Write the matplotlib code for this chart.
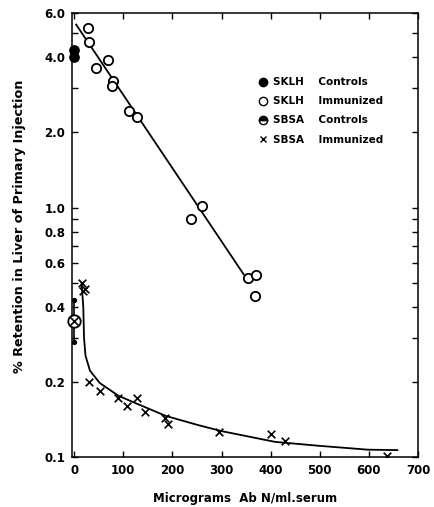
import matplotlib.pyplot as plt
from matplotlib.lines import Line2D

# SKLH, immunized (open circles)
sklh_imm_x = [28, 30, 45, 68, 78, 76, 111, 127, 237, 261, 354, 370, 369]
sklh_imm_y = [5.22, 4.6, 3.62, 3.89, 3.21, 3.06, 2.44, 2.31, 0.90, 1.01, 0.52, 0.535, 0.44]
# fitted line for SKLH
sklh_fit_x = [4, 345]
sklh_fit_y = [5.41, 0.54]
# SKLH controls (filled)
sklh_ctl_x = [0, 0]
sklh_ctl_y = [4.0, 4.27]

# SBSA controls: mean with range
sbsa_ctl_x = [0]
sbsa_ctl_y = [0.35]
sbsa_ctl_lo = [0.289]
sbsa_ctl_hi = [0.425]

# SBSA immunized (x marks)
sbsa_imm_x = [15, 18.5, 21, 30.5, 53.5, 90, 107, 128, 145, 185, 192, 294.5, 400, 429, 636.6]
sbsa_imm_y = [0.496, 0.462, 0.47, 0.199, 0.184, 0.173, 0.160, 0.173, 0.151, 0.144, 0.136,
              0.126, 0.124, 0.116, 0.101]
# hand-drawn curve for SBSA
sbsa_fit_x = [15, 18.5, 20, 23, 32, 52, 90, 120, 187, 254, 300, 409, 496, 598, 658]
sbsa_fit_y = [0.50, 0.40, 0.30, 0.255, 0.222, 0.198, 0.176, 0.166, 0.146, 0.134, 0.127,
              0.115, 0.111, 0.107, 0.1066]

y_ticks = [0.1, 0.2, 0.3, 0.4, 0.5, 0.6, 0.7, 0.8, 0.9, 1.0, 2.0, 3.0, 4.0, 5.0, 6.0]
y_labeled = [0.1, 0.2, 0.4, 0.6, 0.8, 1.0, 2.0, 4.0, 6.0]
x_ticks = [0, 100, 200, 300, 400, 500, 600, 700]


def main() -> int:
    plt.rcParams["font.family"] = ["DejaVu Sans"]
    fig = plt.figure(figsize=(4.34, 5.07), dpi=100)
    ax = fig.add_axes([0.166, 0.0986, 0.797, 0.875])

    ax.plot(sklh_fit_x, sklh_fit_y, color="black", linewidth=1.3)
    ax.plot(sbsa_fit_x, sbsa_fit_y, color="black", linewidth=1.3)

    ax.scatter(sklh_imm_x, sklh_imm_y, s=45, facecolors="white", edgecolors="black",
               linewidths=1.3, zorder=3)
    ax.scatter(sklh_ctl_x, sklh_ctl_y, s=45, color="black", zorder=3, clip_on=False)

    # range bar for SBSA controls, dots at both ends
    yerr = [[m - lo for m, lo in zip(sbsa_ctl_y, sbsa_ctl_lo)],
            [hi - m for m, hi in zip(sbsa_ctl_y, sbsa_ctl_hi)]]
    ax.errorbar(sbsa_ctl_x, sbsa_ctl_y, yerr=yerr, fmt="none", ecolor="black",
                elinewidth=1.2, capsize=0, zorder=2, clip_on=False)
    ax.scatter(sbsa_ctl_x, sbsa_ctl_lo, s=8, color="black", zorder=3, clip_on=False)
    ax.scatter(sbsa_ctl_x, sbsa_ctl_hi, s=8, color="black", zorder=3, clip_on=False)
    ax.scatter(sbsa_ctl_x, sbsa_ctl_y, s=80, facecolors="white", edgecolors="black",
               linewidths=1.3, zorder=4, clip_on=False)
    ax.scatter(sbsa_ctl_x, sbsa_ctl_y, s=30, marker="x", color="black", linewidths=1.2,
               zorder=5, clip_on=False)

    ax.scatter(sbsa_imm_x, sbsa_imm_y, s=30, marker="x", color="black", linewidths=1.2,
               zorder=3)

    ax.set_yscale("log")
    ax.set_xlim(-4.4, 694.5)
    ax.set_ylim(0.1, 6.0)
    ax.set_yticks(y_ticks)
    ax.set_yticklabels(["{0:.1f}".format(t) if t in y_labeled else "" for t in y_ticks])
    ax.minorticks_off()
    ax.set_xticks(x_ticks)
    ax.set_xticklabels([str(t) for t in x_ticks])
    ax.tick_params(direction="in", length=4, width=1, top=True, right=True,
                   labelsize=8.5, pad=5)
    for lab in ax.get_xticklabels() + ax.get_yticklabels():
        lab.set_fontweight("bold")
    for sp in ax.spines.values():
        sp.set_linewidth(1.1)

    ax.set_xlabel("Micrograms  Ab N/ml.serum", fontsize=8.5, fontweight="bold", labelpad=11)
    ax.set_ylabel("% Retention in Liver of Primary Injection", fontsize=9.2,
                  fontweight="bold")
    ax.yaxis.set_label_coords(-0.133, 0.519)

    handles = [
        Line2D([], [], linestyle="none", marker="o", color="black", markersize=6),
        Line2D([], [], linestyle="none", marker="o", markerfacecolor="white",
               markeredgecolor="black", markersize=6),
        Line2D([], [], linestyle="none", marker="o", markerfacecolor="black",
               markeredgecolor="black", fillstyle="top", markersize=6),
        Line2D([], [], linestyle="none", marker="x", color="black", markersize=5),
    ]
    labels = ["SKLH    Controls", "SKLH    Immunized", "SBSA    Controls", "SBSA    Immunized"]
    leg = ax.legend(handles, labels, loc="upper left", bbox_to_anchor=(0.51, 0.877),
                    frameon=False, fontsize=7.5, handlelength=1.0, handletextpad=0.5,
                    labelspacing=0.87)
    for t in leg.get_texts():
        t.set_fontweight("bold")

    fig.savefig("out.png", dpi=100)
    plt.close(fig)
    return 0


if __name__ == "__main__":
    raise SystemExit(main())
